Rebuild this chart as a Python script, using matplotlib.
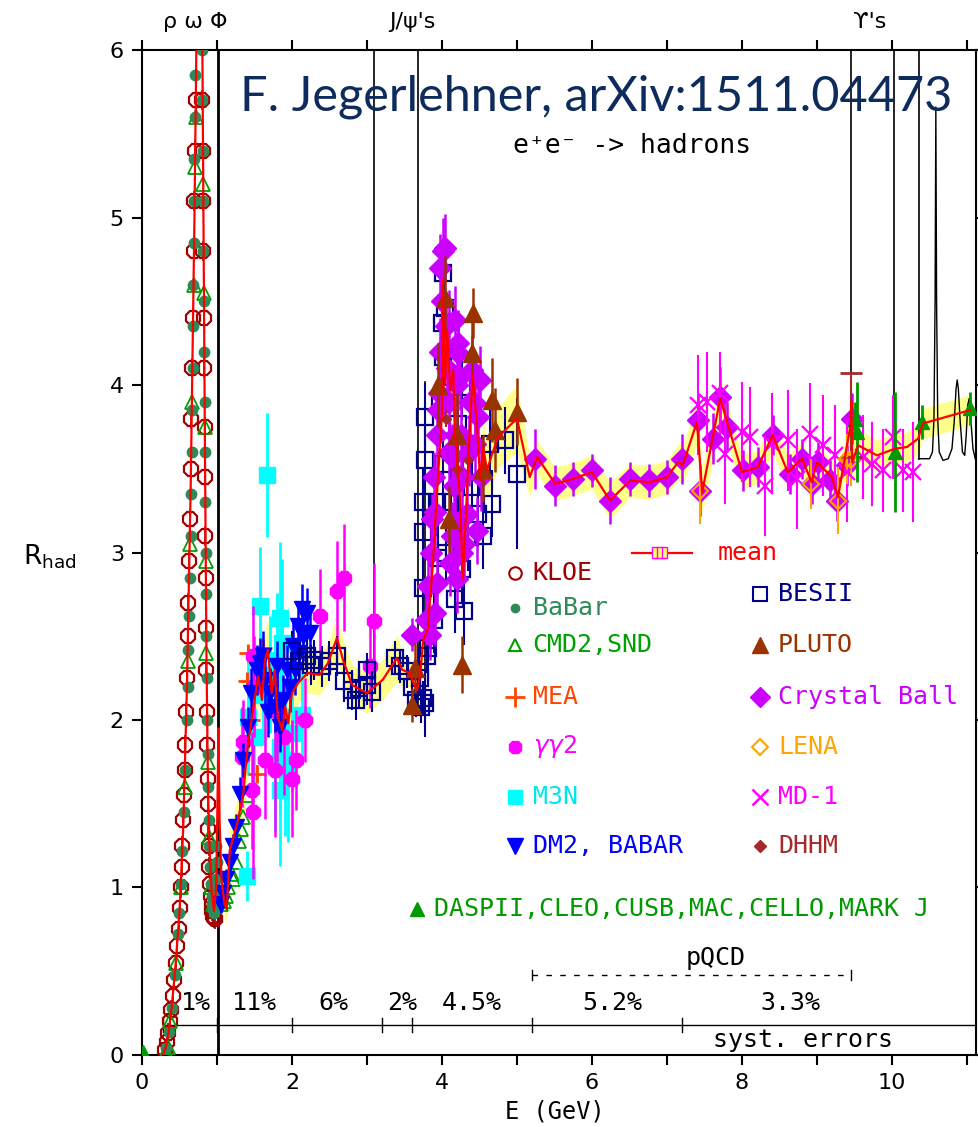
import matplotlib
matplotlib.use("Agg")
import matplotlib.pyplot as plt
from matplotlib.patches import Rectangle

# ---------------- data: (E [GeV], R [, error]) ----------------
kloe = [(0.31, 0.03), (0.33, 0.08), (0.35, 0.13), (0.37, 0.20), (0.39, 0.27), (0.41, 0.35),
        (0.43, 0.45), (0.45, 0.55), (0.47, 0.65), (0.49, 0.75), (0.51, 0.88), (0.52, 1.00),
        (0.53, 1.12), (0.54, 1.25), (0.55, 1.40), (0.56, 1.55), (0.57, 1.70), (0.58, 1.85),
        (0.59, 2.05), (0.60, 2.25), (0.61, 2.50), (0.62, 2.70), (0.63, 2.95), (0.64, 3.20),
        (0.65, 3.50), (0.66, 3.80), (0.67, 4.10), (0.68, 4.40), (0.69, 4.80), (0.70, 5.10),
        (0.71, 5.40), (0.72, 5.70), (0.73, 6.10),
        (0.80, 5.70), (0.81, 5.40), (0.815, 5.10), (0.82, 4.80), (0.825, 4.40), (0.83, 4.10),
        (0.835, 3.75), (0.84, 3.45), (0.845, 3.10), (0.85, 2.85), (0.855, 2.55), (0.86, 2.30),
        (0.865, 2.05), (0.87, 1.85), (0.875, 1.65), (0.88, 1.50), (0.885, 1.35), (0.89, 1.25),
        (0.90, 1.12), (0.91, 1.02), (0.92, 0.95), (0.93, 0.90), (0.94, 0.86), (0.95, 0.83),
        (0.96, 0.82), (0.97, 0.81)]

babar = [(0.32, 0.04), (0.36, 0.14), (0.40, 0.28), (0.44, 0.48), (0.48, 0.72), (0.50, 0.85),
         (0.52, 1.02), (0.54, 1.22), (0.56, 1.45), (0.58, 1.70), (0.60, 2.00), (0.61, 2.20),
         (0.62, 2.42), (0.63, 2.62), (0.64, 2.85), (0.65, 3.10), (0.66, 3.35), (0.665, 3.60),
         (0.67, 3.85), (0.675, 4.10), (0.68, 4.35), (0.685, 4.60), (0.69, 4.85), (0.695, 5.10),
         (0.70, 5.35), (0.705, 5.60), (0.71, 5.85), (0.715, 6.10),
         (0.80, 6.00), (0.805, 5.70), (0.81, 5.40), (0.815, 5.10), (0.82, 4.80), (0.825, 4.50),
         (0.83, 4.20), (0.835, 3.90), (0.84, 3.60), (0.845, 3.30), (0.85, 3.00), (0.855, 2.75),
         (0.86, 2.50), (0.865, 2.25), (0.87, 2.00), (0.875, 1.80), (0.88, 1.60), (0.89, 1.40),
         (0.90, 1.25), (0.91, 1.12), (0.92, 1.02), (0.93, 0.95), (0.94, 0.90), (0.95, 0.87),
         (0.96, 0.85), (0.97, 0.87), (0.98, 0.95), (0.99, 1.05), (1.00, 1.15), (0.99, 1.25)]

cmd2 = [(0.32, 0.02), (0.35, 0.05), (0.37, 0.20), (0.45, 0.55), (0.52, 1.00), (0.57, 1.60),
        (0.61, 2.35), (0.64, 3.05), (0.67, 3.90), (0.69, 4.60), (0.71, 5.30), (0.72, 5.60),
        (0.82, 5.20), (0.83, 4.55), (0.84, 3.75), (0.85, 2.95), (0.86, 2.40), (0.875, 1.75),
        (0.89, 1.30), (0.92, 1.00), (0.95, 0.90), (0.98, 0.95), (1.05, 0.90), (1.10, 0.92),
        (1.12, 0.95), (1.15, 1.00), (1.20, 1.08), (1.22, 1.05), (1.25, 1.15), (1.30, 1.28),
        (1.32, 1.35), (1.35, 1.42), (1.40, 1.55)]

mea = [(1.40, 2.23, 0.05), (1.41, 2.40, 0.05), (1.45, 2.00, 0.05), (1.53, 1.68, 0.05),
       (1.61, 2.43, 0.05), (1.70, 2.30, 0.05)]

gg2 = [(1.33, 1.78, 0.30), (1.35, 1.87, 0.25), (1.47, 1.58, 0.35), (1.48, 1.45, 0.40),
       (1.48, 2.38, 0.30), (1.50, 2.20, 0.30), (1.64, 1.76, 0.35), (1.77, 1.70, 0.40),
       (1.80, 2.05, 0.30), (1.90, 1.90, 0.35), (2.00, 1.65, 0.35), (2.06, 1.76, 0.30),
       (2.17, 2.00, 0.25), (2.37, 2.62, 0.28), (2.60, 2.77, 0.30), (2.70, 2.85, 0.32),
       (3.04, 2.32, 0.25), (3.10, 2.59, 0.35)]

m3n = [(1.40, 1.07, 0.15), (1.41, 2.02, 0.35), (1.50, 1.90, 0.30), (1.57, 2.68, 0.35),
       (1.62, 2.15, 0.30), (1.67, 3.46, 0.37), (1.71, 2.27, 0.35), (1.77, 1.74, 0.40),
       (1.80, 2.36, 0.40), (1.84, 2.61, 0.45), (1.84, 1.84, 0.40), (1.84, 1.58, 0.45),
       (1.87, 2.46, 0.50), (1.91, 1.76, 0.45), (1.95, 1.67, 0.40), (2.00, 1.92, 0.35),
       (2.13, 2.03, 0.30)]

dm2 = [(1.05, 0.90, 0.05), (1.08, 0.97, 0.05), (1.12, 1.05, 0.06), (1.17, 1.15, 0.07),
       (1.21, 1.25, 0.07), (1.26, 1.36, 0.08), (1.31, 1.56, 0.10), (1.35, 1.76, 0.10),
       (1.41, 1.96, 0.12), (1.46, 2.16, 0.15), (1.53, 2.30, 0.15), (1.57, 2.34, 0.15),
       (1.61, 2.38, 0.15), (1.64, 2.24, 0.15), (1.68, 2.05, 0.15), (1.71, 2.16, 0.15),
       (1.77, 2.08, 0.15), (1.80, 2.32, 0.15), (1.84, 1.96, 0.15), (1.88, 2.12, 0.15),
       (1.93, 2.30, 0.15), (1.97, 2.20, 0.15), (2.02, 2.44, 0.15), (2.04, 2.30, 0.15),
       (2.08, 2.56, 0.15), (2.10, 2.40, 0.15), (2.13, 2.66, 0.15), (2.15, 2.50, 0.15),
       (2.20, 2.64, 0.15), (2.24, 2.52, 0.15)]

besii = [(2.00, 2.41, 0.12), (2.10, 2.35, 0.12), (2.20, 2.38, 0.12), (2.25, 2.33, 0.12),
         (2.30, 2.36, 0.12), (2.40, 2.32, 0.12), (2.50, 2.35, 0.12), (2.60, 2.38, 0.12),
         (2.70, 2.23, 0.12), (2.80, 2.18, 0.12), (2.85, 2.12, 0.12), (2.90, 2.19, 0.12),
         (3.00, 2.21, 0.12), (3.00, 2.30, 0.10), (3.07, 2.17, 0.12),
         (3.37, 2.37, 0.10), (3.44, 2.32, 0.10), (3.53, 2.29, 0.10), (3.60, 2.20, 0.10),
         (3.65, 2.12, 0.10), (3.71, 2.25, 0.10), (3.72, 2.08, 0.10), (3.75, 2.13, 0.10),
         (3.80, 2.38, 0.10),
         (3.77, 3.81, 0.20), (3.77, 3.55, 0.20), (3.75, 3.30, 0.20), (3.75, 3.12, 0.20),
         (3.75, 2.79, 0.20), (3.81, 2.43, 0.20), (3.77, 2.10, 0.20), (3.90, 2.60, 0.20),
         (3.93, 3.30, 0.20), (3.95, 2.97, 0.20), (3.98, 3.90, 0.20), (4.00, 4.37, 0.20),
         (4.01, 4.67, 0.20), (4.01, 4.17, 0.20), (4.01, 3.53, 0.20), (4.04, 4.46, 0.20),
         (4.05, 3.00, 0.20), (4.10, 4.05, 0.20), (4.12, 3.30, 0.20), (4.17, 2.72, 0.20),
         (4.20, 3.20, 0.20), (4.21, 3.77, 0.20), (4.27, 3.99, 0.20), (4.27, 2.90, 0.20),
         (4.28, 3.53, 0.20), (4.30, 2.65, 0.20), (4.35, 3.09, 0.20), (4.40, 3.39, 0.20),
         (4.48, 3.23, 0.20), (4.55, 3.10, 0.20), (4.64, 3.65, 0.20), (4.67, 3.29, 0.20),
         (4.84, 3.67, 0.20), (5.00, 3.47, 0.45)]

pluto = [(3.60, 2.09, 0.10), (3.64, 2.31, 0.15), (3.95, 4.00, 0.25), (4.04, 4.52, 0.25),
         (4.10, 3.20, 0.20), (4.20, 3.70, 0.25), (4.27, 2.33, 0.17), (4.40, 4.19, 0.25),
         (4.41, 4.43, 0.15), (4.55, 3.50, 0.20), (4.67, 3.91, 0.25), (4.71, 3.73, 0.25),
         (5.00, 3.84, 0.20)]

cball = [(3.60, 2.51, 0.10), (3.79, 2.60, 0.15), (3.84, 2.51, 0.15), (3.82, 2.80, 0.15),
         (3.85, 3.00, 0.15), (3.87, 3.20, 0.15), (3.90, 3.45, 0.15), (3.91, 2.64, 0.20),
         (3.91, 3.24, 0.20), (3.93, 2.82, 0.20), (3.93, 3.70, 0.20), (3.95, 3.85, 0.20),
         (3.96, 3.95, 0.20), (3.97, 4.70, 0.20), (3.98, 4.20, 0.20), (4.00, 4.50, 0.20),
         (4.02, 4.80, 0.20), (4.04, 4.82, 0.20), (4.05, 4.35, 0.20), (4.07, 4.10, 0.20),
         (4.09, 3.90, 0.20), (4.10, 4.37, 0.20), (4.10, 3.60, 0.20), (4.11, 2.94, 0.20),
         (4.13, 3.57, 0.20), (4.14, 3.10, 0.20), (4.16, 3.40, 0.20), (4.17, 4.39, 0.20),
         (4.17, 3.18, 0.20), (4.18, 3.70, 0.20), (4.20, 4.00, 0.20), (4.20, 2.84, 0.20),
         (4.21, 4.19, 0.20), (4.22, 4.25, 0.20), (4.24, 4.05, 0.20), (4.26, 3.70, 0.20),
         (4.27, 3.45, 0.20), (4.27, 3.00, 0.20), (4.30, 3.05, 0.20), (4.33, 3.23, 0.20),
         (4.36, 3.60, 0.20), (4.38, 3.90, 0.20), (4.40, 4.09, 0.20), (4.44, 3.89, 0.20),
         (4.44, 3.65, 0.20), (4.47, 3.13, 0.20), (4.48, 3.81, 0.20), (4.51, 4.03, 0.20),
         (4.52, 3.45, 0.20),
         (5.24, 3.56, 0.18), (5.51, 3.40, 0.12), (5.75, 3.44, 0.10), (6.00, 3.49, 0.10),
         (6.24, 3.31, 0.14), (6.51, 3.44, 0.10), (6.76, 3.43, 0.10), (7.00, 3.45, 0.10),
         (7.20, 3.56, 0.15), (7.41, 3.79, 0.15), (7.44, 3.37, 0.15), (7.61, 3.68, 0.15),
         (7.71, 3.93, 0.18), (7.80, 3.75, 0.15), (8.01, 3.49, 0.12), (8.21, 3.51, 0.12),
         (8.41, 3.70, 0.12), (8.64, 3.47, 0.12), (8.80, 3.56, 0.12), (8.93, 3.41, 0.12),
         (9.01, 3.54, 0.12), (9.17, 3.43, 0.12), (9.27, 3.31, 0.12), (9.40, 3.52, 0.12),
         (9.47, 3.80, 0.15)]

lena = [(7.44, 3.37, 0.20), (8.92, 3.41, 0.15), (9.28, 3.31, 0.20), (9.40, 3.56, 0.15),
        (9.45, 3.55, 0.15)]

md1 = [(7.41, 3.88, 0.30), (7.53, 3.90, 0.30), (7.71, 3.95, 0.25), (7.77, 3.59, 0.30),
       (8.00, 3.72, 0.30), (8.11, 3.69, 0.30), (8.31, 3.40, 0.30), (8.40, 3.65, 0.30),
       (8.61, 3.67, 0.30), (8.73, 3.44, 0.30), (8.91, 3.71, 0.30), (9.08, 3.64, 0.30),
       (9.24, 3.58, 0.30), (9.40, 3.48, 0.30), (9.61, 3.57, 0.25), (9.73, 3.53, 0.25),
       (9.88, 3.49, 0.25), (10.01, 3.69, 0.25), (10.15, 3.49, 0.25), (10.28, 3.48, 0.30)]

dhhm = [(4.05, 3.80, 0.05), (4.20, 3.50, 0.05), (4.35, 3.55, 0.05)]
dhhm_ups = [(9.46, 3.62, 0.45)]

daspii = [(0.01, 0.02, 0.0), (9.51, 3.80, 0.10), (9.53, 3.72, 0.30), (10.04, 3.60, 0.36),
          (10.40, 3.78, 0.10), (11.04, 3.86, 0.10)]

# mean R with its error band
mean = [(0.28, 0.00, 0.00), (0.32, 0.05, 0.01), (0.36, 0.15, 0.01), (0.40, 0.30, 0.01),
        (0.45, 0.55, 0.01), (0.50, 0.85, 0.02), (0.55, 1.35, 0.02), (0.60, 2.20, 0.03),
        (0.65, 3.40, 0.04), (0.70, 5.00, 0.05), (0.74, 6.60, 0.06), (0.80, 6.40, 0.06),
        (0.82, 5.00, 0.05), (0.84, 3.60, 0.04), (0.86, 2.40, 0.03), (0.88, 1.60, 0.02),
        (0.90, 1.25, 0.02), (0.93, 0.97, 0.02), (0.96, 0.86, 0.02), (0.99, 1.00, 0.05),
        (1.01, 1.60, 0.10), (1.02, 1.95, 0.10), (1.035, 1.40, 0.10), (1.06, 1.05, 0.08),
        (1.10, 0.90, 0.08), (1.13, 0.87, 0.08), (1.17, 1.22, 0.12), (1.28, 1.40, 0.15),
        (1.35, 1.56, 0.15), (1.41, 1.84, 0.17), (1.48, 2.06, 0.18), (1.55, 2.26, 0.18),
        (1.60, 2.12, 0.18), (1.64, 2.36, 0.18), (1.68, 2.42, 0.18), (1.73, 2.16, 0.18),
        (1.77, 2.30, 0.18), (1.81, 2.02, 0.18), (1.87, 1.94, 0.18), (1.91, 2.08, 0.18),
        (1.95, 1.98, 0.18), (2.00, 2.16, 0.13), (2.08, 2.22, 0.12), (2.21, 2.28, 0.12),
        (2.37, 2.27, 0.12), (2.48, 2.34, 0.12), (2.60, 2.49, 0.13), (2.68, 2.36, 0.12),
        (2.80, 2.21, 0.12), (3.00, 2.16, 0.12), (3.21, 2.24, 0.12), (3.40, 2.37, 0.14),
        (3.47, 2.30, 0.10), (3.57, 2.28, 0.08), (3.62, 2.22, 0.08), (3.67, 2.18, 0.08),
        (3.71, 2.27, 0.10), (3.75, 2.48, 0.12), (3.81, 2.54, 0.12), (3.88, 2.94, 0.15),
        (3.93, 3.33, 0.15), (4.00, 3.83, 0.18), (4.01, 4.63, 0.20), (4.04, 4.00, 0.18),
        (4.07, 4.33, 0.18), (4.11, 3.97, 0.18), (4.15, 4.09, 0.18), (4.17, 3.73, 0.18),
        (4.24, 3.33, 0.18), (4.27, 2.94, 0.18), (4.28, 2.84, 0.18), (4.33, 3.33, 0.18),
        (4.37, 3.73, 0.18), (4.41, 4.07, 0.18), (4.47, 3.73, 0.18), (4.51, 3.43, 0.18),
        (4.55, 3.63, 0.18), (4.60, 3.49, 0.18), (4.67, 3.59, 0.18), (4.75, 3.69, 0.18),
        (5.00, 3.80, 0.20), (5.17, 3.45, 0.12), (5.27, 3.57, 0.10), (5.51, 3.41, 0.10),
        (5.75, 3.44, 0.10), (6.00, 3.48, 0.10), (6.24, 3.31, 0.11), (6.51, 3.43, 0.10),
        (6.76, 3.42, 0.10), (7.00, 3.45, 0.10), (7.15, 3.54, 0.11), (7.21, 3.52, 0.11),
        (7.40, 3.78, 0.13), (7.47, 3.36, 0.13), (7.71, 3.92, 0.13), (8.00, 3.48, 0.10),
        (8.21, 3.51, 0.10), (8.41, 3.70, 0.10), (8.61, 3.48, 0.10), (8.80, 3.56, 0.10),
        (8.93, 3.42, 0.10), (9.00, 3.54, 0.10), (9.20, 3.45, 0.10), (9.28, 3.33, 0.11),
        (9.37, 3.56, 0.11), (9.44, 3.74, 0.13), (9.46, 3.90, 0.25), (9.47, 3.54, 0.13),
        (9.55, 3.64, 0.10), (9.80, 3.58, 0.09), (10.04, 3.62, 0.09), (10.20, 3.63, 0.09),
        (10.35, 3.68, 0.09), (10.41, 3.77, 0.09), (11.04, 3.85, 0.09)]

# narrow resonances drawn as lines: (E, R_low, R_high)
resonances = [(1.019, 0.00, 6.0), (3.097, 2.33, 6.0), (3.686, 2.05, 6.0), (3.773, 2.06, 4.02),
              (9.460, 3.55, 6.0), (10.023, 3.58, 6.0), (10.355, 3.56, 6.0)]

# Upsilon(4S) and above, thin black curve
ups_E = [10.355, 10.40, 10.50, 10.54, 10.56, 10.575, 10.585, 10.595, 10.61, 10.63, 10.68,
         10.75, 10.80, 10.83, 10.855, 10.87, 10.885, 10.91, 10.94, 10.97, 10.99, 11.01,
         11.03, 11.05, 11.08, 11.11]
ups_R = [3.56, 3.56, 3.56, 3.60, 3.80, 4.50, 5.66, 4.50, 3.80, 3.60, 3.55,
         3.56, 3.62, 3.78, 3.98, 4.03, 3.98, 3.78, 3.60, 3.58, 3.70, 3.88,
         3.92, 3.80, 3.62, 3.56]

# systematic error regions
syst_edges = [0.28, 1.0, 2.0, 3.2, 3.6, 5.2, 7.2]
syst_labels = [(0.72, "1%"), (1.5, "11%"), (2.55, "6%"), (3.47, "2%"), (4.4, "4.5%"),
               (6.27, "5.2%"), (8.65, "3.3%")]
pqcd_range = (5.2, 9.46)

# ---------------- plotting ----------------
MONO = "DejaVu Sans Mono"

fig = plt.figure(figsize=(9.79, 11.27), dpi=100)
ax = fig.add_axes([0.145, 0.0639, 0.8519, 0.8917])
ax.set_xlim(0, 11.12)
ax.set_ylim(0, 6)


def unpack(rows):
    return [list(c) for c in zip(*rows)]


def eb(rows, **kw):
    x, y, e = unpack(rows)
    ax.errorbar(x, y, yerr=e, linestyle="none", **kw)


# mean band and resonance lines
mx, my, me = unpack(mean)
ax.fill_between(mx, [a - b for a, b in zip(my, me)], [a + b for a, b in zip(my, me)],
                color="#ffff8c", lw=0, zorder=1)
for e, lo, hi in resonances:
    ax.plot([e, e], [lo, hi], color="black", lw=2.0 if e < 2 else 1.2, zorder=1.5)
ax.plot(ups_E, ups_R, color="black", lw=1.0, zorder=1.5)

# datasets
kx, ky = unpack(kloe)
ax.errorbar(kx, ky, yerr=0.06, fmt="8", ms=11.5, mfc="none", mec="#a00000", mew=1.6,
            ecolor="#a00000", elinewidth=1.2, zorder=3)
bx, by = unpack(babar)
ax.plot(bx, by, "o", ms=7.5, color="#2e8b57", zorder=3.2)
cx, cy = unpack(cmd2)
ax.plot(cx, cy, "^", ms=10, mfc="none", mec="#00a000", mew=1.3, zorder=3.1)

eb(mea, fmt="+", ms=13, mew=2, color="#ff4500", zorder=3)
eb(m3n, fmt="s", ms=11, color="#00ffff", elinewidth=2, zorder=3)
eb(gg2, fmt="8", ms=11.5, color="#ff00ff", elinewidth=1.8, zorder=3.1)
eb(dm2, fmt="v", ms=12, color="#0000ff", elinewidth=1.8, zorder=3.2)
eb(besii, fmt="s", ms=12, mfc="none", mec="#00008b", mew=1.6, ecolor="#00008b",
   elinewidth=1.5, zorder=3.3)
eb(cball, fmt="D", ms=11, color="#cc00ff", elinewidth=1.8, zorder=3.4)
eb(pluto, fmt="^", ms=12.5, color="#993300", elinewidth=1.8, zorder=3.5)
eb(lena, fmt="D", ms=8.5, mfc="none", mec="#ffa500", mew=1.5, ecolor="#ffa500",
   elinewidth=1.5, zorder=3.6)
eb(md1, fmt="x", ms=12, mew=1.6, color="#ff00ff", elinewidth=1.5, zorder=3.5)
eb(dhhm, fmt="D", ms=5, color="#a52a2a", zorder=3.6)
hx, hy, he = unpack(dhhm_ups)
ax.errorbar(hx, hy, yerr=[[0.05], he], fmt="none", ecolor="#a52a2a", elinewidth=1.5,
            capsize=8, capthick=2, zorder=3.6)
eb(daspii, fmt="^", ms=10, color="#009900", elinewidth=2, zorder=3.7)

# mean line
ax.plot(mx, my, color="red", lw=1.6, zorder=4)

# ---------------- legend (drawn by hand) ----------------
leg_left = [("KLOE", "#a00000", dict(marker="o", ms=9, mfc="none", mec="#a00000", mew=1.5), 2.88),
            ("BaBar", "#2e8b57", dict(marker="o", ms=6, color="#2e8b57"), 2.67),
            ("CMD2,SND", "#00a000", dict(marker="^", ms=9, mfc="none", mec="#00a000", mew=1.5), 2.45),
            ("MEA", "#ff4500", dict(marker="+", ms=14, mew=2, color="#ff4500"), 2.14),
            (r"$\gamma\gamma$2", "#ff00ff", dict(marker="8", ms=10, color="#ff00ff"), 1.84),
            ("M3N", "#00e5ee", dict(marker="s", ms=10, color="#00ffff"), 1.54),
            ("DM2, BABAR", "#0000ff", dict(marker="v", ms=11, color="#0000ff"), 1.25)]
leg_right = [("BESII", "#00008b", dict(marker="s", ms=10, mfc="none", mec="#00008b", mew=1.5), 2.75),
             ("PLUTO", "#993300", dict(marker="^", ms=12, color="#993300"), 2.45),
             ("Crystal Ball", "#cc00ff", dict(marker="D", ms=10, color="#cc00ff"), 2.14),
             ("LENA", "#ffa500", dict(marker="D", ms=8, mfc="none", mec="#ffa500", mew=1.5), 1.84),
             ("MD-1", "#ff00ff", dict(marker="x", ms=11, mew=1.8, color="#ff00ff"), 1.54),
             ("DHHM", "#a52a2a", dict(marker="D", ms=6, color="#a52a2a"), 1.25)]

for items, mxp, tx in [(leg_left, 4.97, 5.21), (leg_right, 8.24, 8.48)]:
    for label, col, style, yy in items:
        ax.plot([mxp], [yy], linestyle="none", zorder=5, **style)
        ax.text(tx, yy, label, color=col, fontsize=18, family=MONO, va="center", ha="left")

ax.plot([3.67], [0.87], marker="^", ms=10, color="#009900", zorder=5)
ax.text(3.9, 0.87, "DASPII,CLEO,CUSB,MAC,CELLO,MARK J", color="#009900", fontsize=18,
        family=MONO, va="center", ha="left")

# mean legend symbol
ax.plot([6.53, 7.33], [3.0, 3.0], color="red", lw=1.6, zorder=5)
ax.add_patch(Rectangle((6.8, 2.965), 0.2, 0.07, facecolor="#ffff66", edgecolor="#ff00ff",
                       lw=1, zorder=5))
for vx in (6.867, 6.933):
    ax.plot([vx, vx], [2.965, 3.035], color="#ff00ff", lw=1, zorder=5.1)
ax.text(7.68, 3.0, "mean", color="red", fontsize=18, family=MONO, va="center", ha="left")

# ---------------- annotations ----------------
ax.text(6.05, 5.72, "F. Jegerlehner, arXiv:1511.04473", color="#0d2b5c", fontsize=35,
        family="Lato", ha="center", va="center", zorder=6)
ax.text(6.53, 5.43, "e⁺e⁻ -> hadrons", fontsize=19, family=MONO, ha="center", va="center")

# systematic errors bar
ax.plot([syst_edges[0], 11.12], [0.18, 0.18], color="black", lw=1.0, zorder=2)
for e in syst_edges:
    ax.plot([e, e], [0.14, 0.22], color="black", lw=1.0, zorder=2)
for e, lab in syst_labels:
    ax.text(e, 0.31, lab, fontsize=18, family=MONO, ha="center", va="center", zorder=2)
ax.text(8.81, 0.09, "syst. errors", fontsize=18, family=MONO, ha="center", va="center")

# pQCD range
ax.plot(pqcd_range, [0.48, 0.48], color="black", lw=1.0, dashes=(4, 6))
for e in pqcd_range:
    ax.plot([e, e], [0.45, 0.51], color="black", lw=1.0)
ax.text(7.65, 0.58, "pQCD", fontsize=18, family=MONO, ha="center", va="center")

# top labels
for e, lab in [(0.71, "ρ ω Φ"), (3.6, "J/ψ's"), (9.7, "ϒ's")]:
    ax.text(e, 6.17, lab, fontsize=16, ha="center", va="center", clip_on=False)

# ---------------- axes styling ----------------
ax.set_xticks(range(0, 12))
ax.set_xticklabels(["0", "", "2", "", "4", "", "6", "", "8", "", "10", ""])
ax.set_yticks(range(0, 7))
ax.tick_params(axis="both", direction="out", length=7, width=1.5, labelsize=16, pad=6)
ax.tick_params(top=True, right=True)
for sp in ax.spines.values():
    sp.set_linewidth(1.5)

fig.text(0.051, 0.506, r"R$_{\rm had}$", fontsize=19, ha="center", va="center")
fig.text(0.567, 0.014, "E (GeV)", fontsize=17, family=MONO, ha="center", va="center")

fig.savefig("out.png", dpi=100)
